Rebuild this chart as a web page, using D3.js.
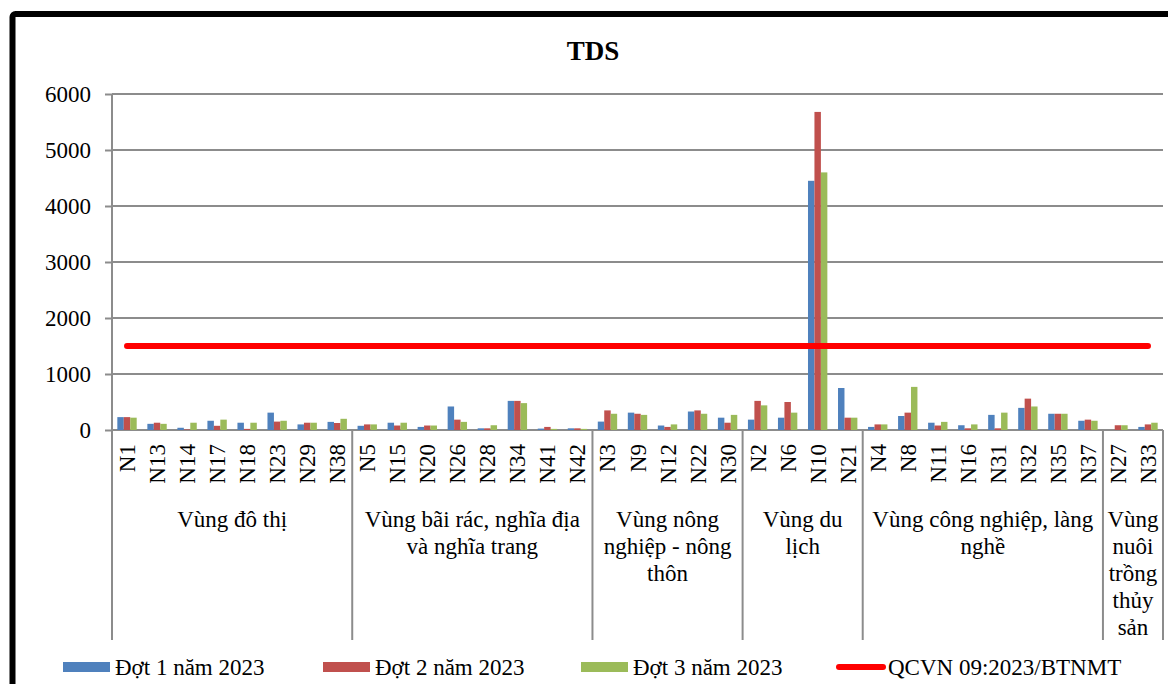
<!DOCTYPE html>
<html>
<head>
<meta charset="utf-8">
<script src="https://cdn.jsdelivr.net/npm/d3@7/dist/d3.min.js"></script>
<style>
  html, body { margin: 0; padding: 0; background: #fff; }
  svg { display: block; }
</style>
</head>
<body>
<svg id="chart" width="1168" height="684"></svg>
<script>
// Sampling points, in axis order
const stations = [
  "N1","N13","N14","N17","N18","N23","N29","N38",
  "N5","N15","N20","N26","N28","N34","N41","N42",
  "N3","N9","N12","N22","N30",
  "N2","N6","N10","N21",
  "N4","N8","N11","N16","N31","N32","N35","N37",
  "N27","N33"
];

// TDS (mg/L) for each sampling round
const dot1 = [
  230,110,40,165,130,310,100,145,
  75,130,55,420,30,520,25,30,
  150,310,80,330,220,
  185,220,4450,750,
  55,250,130,85,270,395,290,165,
  0,55
];
const dot2 = [
  230,130,10,75,20,150,130,125,
  100,80,80,185,30,520,55,30,
  350,290,55,350,130,
  520,500,5680,220,
  100,310,80,30,30,560,290,185,
  85,100
];
const dot3 = [
  220,110,130,185,130,165,130,200,
  100,130,80,145,85,480,20,20,
  290,270,100,290,270,
  440,310,4600,220,
  100,770,145,100,310,420,290,165,
  85,130
];

// Zones: label lines and how many stations each covers
const zoneLines = [
  ["Vùng đô thị"],
  ["Vùng bãi rác, nghĩa địa", "và nghĩa trang"],
  ["Vùng nông", "nghiệp - nông", "thôn"],
  ["Vùng du", "lịch"],
  ["Vùng công nghiệp, làng", "nghề"],
  ["Vùng", "nuôi", "trồng", "thủy", "sản"]
];
const zoneSizes = [8, 8, 5, 4, 8, 2];

const yTicks = [0, 1000, 2000, 3000, 4000, 5000, 6000];
const qcvnLimit = 1500;

const seriesNames = ["Đợt 1 năm 2023", "Đợt 2 năm 2023", "Đợt 3 năm 2023"];
const lineName = "QCVN 09:2023/BTNMT";
const colors = ["#4f81bd", "#c0504d", "#9bbb59"];
const limitColor = "#ff0000";
const gridColor = "#8c8c8c";
const serif = "'Liberation Serif', 'Times New Roman', Tinos, 'DejaVu Serif', serif";

const svg = d3.select("#chart").attr("font-family", serif);

// Outer frame (only top and left edges fall inside the view)
svg.append("rect")
  .attr("x", 12.5).attr("y", 14)
  .attr("width", 1300).attr("height", 800)
  .attr("rx", 3)
  .attr("fill", "none").attr("stroke", "#000").attr("stroke-width", 6);

const plot = { left: 112, right: 1163, top: 94, bottom: 430 };

const x = d3.scaleBand().domain(stations).range([plot.left, plot.right]).padding(0);
const y = d3.scaleLinear().domain([0, 6000]).range([plot.bottom, plot.top]);

// Title
svg.append("text")
  .attr("x", 593).attr("y", 60)
  .attr("text-anchor", "middle")
  .attr("font-family", serif)
  .attr("font-size", 27).attr("font-weight", "bold")
  .text("TDS");

// Gridlines
svg.append("g")
  .selectAll("line").data(yTicks).join("line")
  .attr("x1", plot.left).attr("x2", plot.right)
  .attr("y1", d => y(d)).attr("y2", d => y(d))
  .attr("stroke", gridColor).attr("stroke-width", 2);

// Y axis
const yAxis = svg.append("g")
  .attr("transform", `translate(${plot.left},0)`)
  .call(d3.axisLeft(y).tickValues(yTicks).tickSize(7).tickPadding(14).tickFormat(d3.format("d")))
  .attr("font-family", serif)
  .attr("font-size", 23);
yAxis.select(".domain").remove();
yAxis.selectAll(".tick line").attr("stroke", gridColor).attr("stroke-width", 2);
yAxis.selectAll(".tick text")
  .attr("font-family", serif)
  .attr("font-size", 23)
  .attr("fill", "#000");

// Bars
const bw = x.bandwidth() * 0.215;
const off = (x.bandwidth() - 3 * bw) / 2;
[dot1, dot2, dot3].forEach((vals, si) => {
  svg.append("g")
    .selectAll("rect").data(vals).join("rect")
    .attr("x", (d, i) => x(stations[i]) + off + si * bw)
    .attr("y", d => y(d))
    .attr("width", bw)
    .attr("height", d => y(0) - y(d))
    .attr("fill", colors[si]);
});

// Regulation limit line, across category centres
const cx = s => x(s) + x.bandwidth() / 2;
svg.append("path")
  .datum(stations)
  .attr("d", d3.line().x(s => cx(s)).y(() => y(qcvnLimit)))
  .attr("fill", "none")
  .attr("stroke", limitColor).attr("stroke-width", 6)
  .attr("stroke-linecap", "round");

// Vertical axis line and zone separators below the x axis
const sepBottom = 640;
svg.append("line")
  .attr("x1", plot.left).attr("x2", plot.left)
  .attr("y1", plot.top).attr("y2", sepBottom)
  .attr("stroke", gridColor).attr("stroke-width", 2);

let start = 0;
const zones = zoneSizes.map((n, zi) => {
  const z = { first: stations[start], last: stations[start + n - 1], lines: zoneLines[zi] };
  start += n;
  return z;
});
zones.forEach(z => {
  const xr = x(z.last) + x.bandwidth();
  svg.append("line")
    .attr("x1", xr).attr("x2", xr)
    .attr("y1", plot.bottom).attr("y2", sepBottom)
    .attr("stroke", gridColor).attr("stroke-width", 2);
  const xc = (x(z.first) + xr) / 2;
  const t = svg.append("text")
    .attr("text-anchor", "middle")
    .attr("font-family", serif)
    .attr("font-size", 23);
  z.lines.forEach((ln, li) => {
    t.append("tspan").attr("x", xc).attr("y", 527 + li * 27).text(ln);
  });
});

// Station labels, rotated
svg.append("g")
  .selectAll("text").data(stations).join("text")
  .attr("transform", s => `translate(${cx(s) + 8},444) rotate(-90)`)
  .attr("text-anchor", "end")
  .attr("font-family", serif)
  .attr("font-size", 23)
  .text(s => s);

// Legend
const legendY = 667;
const legendX = [63, 323, 581, 836];
seriesNames.forEach((name, i) => {
  svg.append("rect")
    .attr("x", legendX[i]).attr("y", legendY - 5)
    .attr("width", 47).attr("height", 10)
    .attr("fill", colors[i]);
  svg.append("text")
    .attr("x", legendX[i] + 52).attr("y", legendY + 8)
    .attr("font-family", serif)
    .attr("font-size", 23)
    .text(name);
});
svg.append("line")
  .attr("x1", legendX[3] + 3).attr("x2", legendX[3] + 47)
  .attr("y1", legendY).attr("y2", legendY)
  .attr("stroke", limitColor).attr("stroke-width", 6)
  .attr("stroke-linecap", "round");
svg.append("text")
  .attr("x", legendX[3] + 52).attr("y", legendY + 8)
  .attr("font-family", serif)
  .attr("font-size", 23)
  .text(lineName);
</script>
</body>
</html>
